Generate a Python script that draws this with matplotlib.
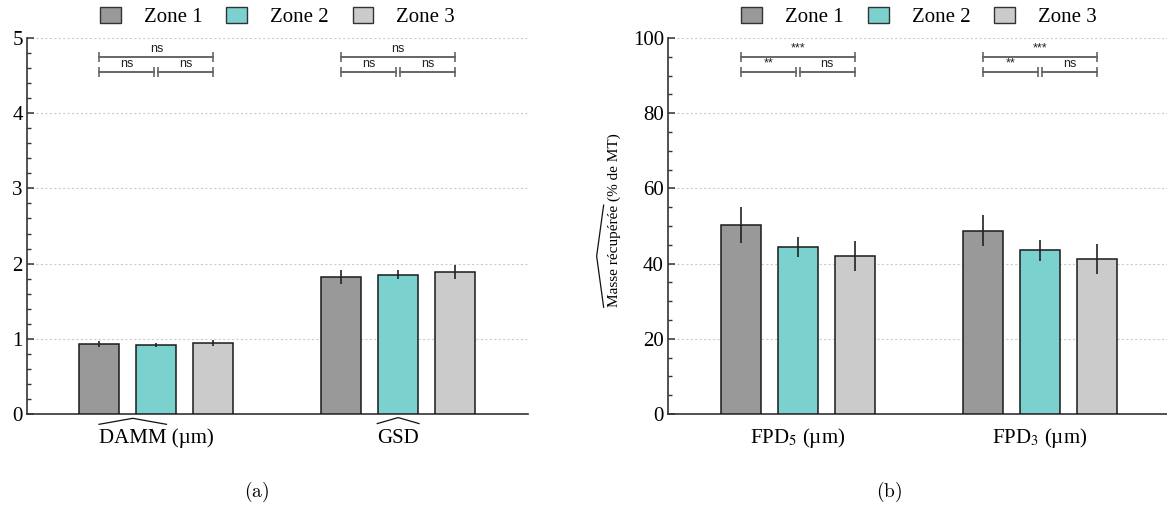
import matplotlib
matplotlib.use('Agg')
import matplotlib.pyplot as plt
import numpy as np
from matplotlib.ticker import MultipleLocator
from matplotlib.patches import Patch
from matplotlib.lines import Line2D

plt.rcParams['font.family'] = ['Liberation Serif', 'DejaVu Serif']
plt.rcParams['mathtext.fontset'] = 'stix'

# ---------------- data ----------------
zones = ['Zone 1', 'Zone 2', 'Zone 3']
zone_colors = ['#999999', '#7bd1ce', '#cbcbcb']

cats_a = ['DAMM (µm)', 'GSD']
hat_a = ['DAMM', 'GSD']            # part of each label under a wide hat
means_a = [[0.93, 1.82],   # Zone 1
           [0.92, 1.85],   # Zone 2
           [0.94, 1.89]]   # Zone 3
errs_a = [[0.04, 0.09],
          [0.03, 0.06],
          [0.04, 0.09]]
sig_a = [['ns', 'ns', 'ns'],   # (1-2, 2-3, 1-3) per category
         ['ns', 'ns', 'ns']]

cats_b = [r'FPD$_{5}$ (µm)', r'FPD$_{3}$ (µm)']
means_b = [[50.3, 48.8],
           [44.4, 43.5],
           [42.0, 41.2]]
errs_b = [[4.7, 4.0],
          [2.7, 2.7],
          [4.1, 3.9]]
sig_b = [['**', 'ns', '***'],
         ['**', 'ns', '***']]

yticks_a = [0, 1, 2, 3, 4, 5]
yticks_b = [0, 20, 40, 60, 80, 100]
ylabel_b = 'Masse récupérée (% de MT)'
ylabel_hat = 'Masse récupérée'

# ---------------- layout ----------------
W, H = 1167, 513
fig = plt.figure(figsize=(W / 100, H / 100), dpi=100)
bottom = 1 - 414 / H
height = 376 / H
ax1 = fig.add_axes([27 / W, bottom, 501 / W, height])
ax2 = fig.add_axes([668 / W, bottom, 502 / W, height])

bw = 0.165
off = 0.2355


def draw(ax, cats, means, errs, sigs, yticks, ymax, minor, levels, txt_off, xpad):
    x = np.arange(len(cats))
    for i in range(3):
        xi = x + (i - 1) * off
        ax.bar(xi, means[i], width=bw, color=zone_colors[i], edgecolor='#1a1a1a',
               linewidth=1.1, zorder=3)
        ax.errorbar(xi, means[i], yerr=errs[i], fmt='none', ecolor='#222222',
                    elinewidth=1.2, capsize=0, zorder=4)
    # significance brackets
    d = 0.008
    lc = '#666666'
    for j, s in enumerate(sigs):
        x1, x2, x3 = x[j] - off, x[j], x[j] + off
        lo, hi = levels
        segs = [(x1, x2 - d, lo, s[0]), (x2 + d, x3, lo, s[1]), (x1, x3, hi, s[2])]
        for a, b, yv, t in segs:
            ax.plot([a, b], [yv, yv], color=lc, lw=1.4, marker='|', ms=7,
                    mew=1.2, zorder=5, clip_on=False)
            ax.text((a + b) / 2, yv + txt_off, t, ha='center', va='bottom',
                    fontsize=9, family=['Liberation Sans', 'DejaVu Sans'],
                    color='#222222')
    ax.set_xlim(-0.535, 1.537)
    ax.set_ylim(0, ymax)
    ax.set_xticks(x)
    ax.set_xticklabels(cats, fontsize=15)
    ax.tick_params(axis='x', length=0, pad=xpad)
    ax.set_yticks(yticks)
    ax.set_yticklabels([str(t) for t in yticks], fontsize=15)
    ax.yaxis.set_minor_locator(MultipleLocator(minor))
    ax.tick_params(axis='y', which='major', direction='in', length=5, width=1.1,
                   color='#333333', pad=3)
    ax.tick_params(axis='y', which='minor', direction='in', length=3, width=1.0,
                   color='#333333')
    for sp in ['top', 'right']:
        ax.spines[sp].set_visible(False)
    for sp in ['left', 'bottom']:
        ax.spines[sp].set_color('#333333')
        ax.spines[sp].set_linewidth(1.2)
    ax.yaxis.grid(True, which='major', color='#cccccc', linestyle=(0, (2, 2)),
                  linewidth=0.8, zorder=0)
    ax.set_axisbelow(True)
    handles = [Patch(facecolor=zone_colors[i], edgecolor='#333333', linewidth=1.0,
                     label=zones[i]) for i in range(3)]
    ax.legend(handles=handles, loc='center', bbox_to_anchor=(0.5, 1 + 21 / 376),
              ncol=3, frameon=False, fontsize=15, handlelength=1.0,
              handleheight=0.8, handletextpad=1.1, columnspacing=1.15,
              borderaxespad=0, borderpad=0)


draw(ax1, cats_a, means_a, errs_a, sig_a, yticks_a, 5, 0.2, (4.55, 4.75), 0.03, 10.5)
draw(ax2, cats_b, means_b, errs_b, sig_b, yticks_b, 100, 5, (91, 95), 0.6, 9.0)

ax2.set_ylabel(ylabel_b, fontsize=11)
ax2.yaxis.set_label_coords(-0.094, 0.515)

fig.text(257 / W, 1 - 492 / H, r'$\mathrm{(a)}$', ha='center', va='center',
         fontsize=14, math_fontfamily='cm')
fig.text(889 / W, 1 - 492 / H, r'$\mathrm{(b)}$', ha='center', va='center',
         fontsize=14, math_fontfamily='cm')

# ---------------- wide hats ----------------
fig.canvas.draw()
renderer = fig.canvas.get_renderer()


def add_hat(txt, sub, vertical=False, gap=3.0, rise=6.0):
    fp = txt.get_fontproperties()
    w_sub, h_sub, d_sub = renderer.get_text_width_height_descent(sub, fp, ismath=False)
    _, _, d_full = renderer.get_text_width_height_descent(txt.get_text(), fp, ismath=False)
    _, _, d_lp = renderer.get_text_width_height_descent('lp', fp, ismath=False)
    d = max(d_full, d_lp)
    cap = h_sub - d_sub
    bb = txt.get_window_extent(renderer)
    if not vertical:
        yb = bb.y0 + d + cap + gap
        xs = [bb.x0, bb.x0 + w_sub / 2, bb.x0 + w_sub]
        ys = [yb, yb + rise, yb]
    else:
        xb = bb.x1 - d - cap - gap
        xs = [xb, xb - rise, xb]
        ys = [bb.y0, bb.y0 + w_sub / 2, bb.y0 + w_sub]
    fw, fh = fig.bbox.width, fig.bbox.height
    fig.add_artist(Line2D([v / fw for v in xs], [v / fh for v in ys],
                          transform=fig.transFigure, color='#111111', lw=0.9))


for lab, sub in zip(ax1.get_xticklabels(), hat_a):
    add_hat(lab, sub, gap=5.0, rise=6.0)
add_hat(ax2.yaxis.label, ylabel_hat, vertical=True, gap=4.0, rise=7.0)

fig.savefig('out.png', dpi=100)
